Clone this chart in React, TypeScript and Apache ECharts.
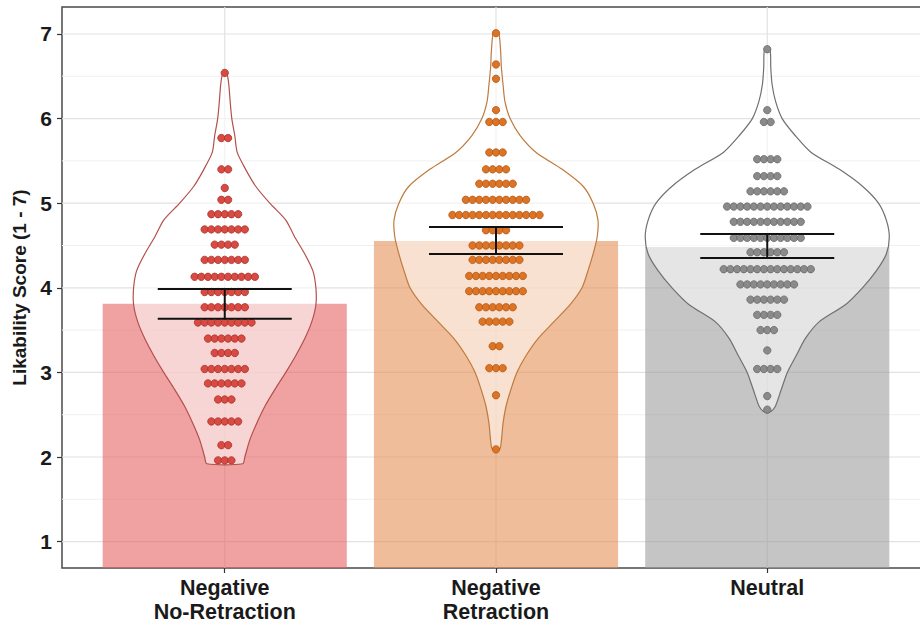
import React, { useEffect, useRef } from "react";
import * as echarts from "echarts";

// ---- data ----
const categories = ["Negative\nNo-Retraction", "Negative\nRetraction", "Neutral"];
const categoryPositions = [1, 2, 3];
const barMeans = [3.81, 4.554, 4.483];
const errLower = [3.633, 4.4, 4.353];
const errUpper = [3.987, 4.719, 4.636];
const yTicks = [1, 2, 3, 4, 5, 6, 7];
const gridMajor = [1, 2, 3, 4, 5, 6, 7];
const gridMinor = [1.5, 2.5, 3.5, 4.5, 5.5, 6.5];

// violin outlines: [score, half width in x-axis units]
const violinNoRetraction = [
  [6.57, 0], [6.52, 0.009], [6.4, 0.015], [6.2, 0.02], [6.0, 0.026], [5.8, 0.037], [5.6, 0.046],
  [5.4, 0.077], [5.2, 0.114], [5.0, 0.166], [4.8, 0.225], [4.6, 0.258], [4.4, 0.295], [4.2, 0.325],
  [4.0, 0.336], [3.8, 0.336], [3.6, 0.321], [3.4, 0.295], [3.2, 0.262], [3.0, 0.225], [2.8, 0.185],
  [2.6, 0.148], [2.4, 0.118], [2.2, 0.092], [2.0, 0.074], [1.92, 0.066],
];
const violinRetraction = [
  [7.04, 0], [7.0, 0.011], [6.8, 0.017], [6.6, 0.02], [6.4, 0.026], [6.2, 0.033], [6.0, 0.052],
  [5.8, 0.089], [5.6, 0.148], [5.4, 0.244], [5.2, 0.321], [5.0, 0.358], [4.8, 0.376], [4.6, 0.373],
  [4.4, 0.358], [4.2, 0.339], [4.0, 0.317], [3.8, 0.273], [3.6, 0.214], [3.4, 0.155], [3.2, 0.111],
  [3.0, 0.077], [2.8, 0.055], [2.6, 0.037], [2.4, 0.026], [2.2, 0.02], [2.1, 0.015], [2.07, 0],
];
const violinNeutral = [
  [6.84, 0], [6.8, 0.011], [6.6, 0.013], [6.4, 0.018], [6.2, 0.031], [6.0, 0.055], [5.8, 0.103],
  [5.6, 0.162], [5.4, 0.266], [5.2, 0.351], [5.0, 0.41], [4.8, 0.439], [4.6, 0.45], [4.4, 0.439],
  [4.2, 0.402], [4.0, 0.351], [3.8, 0.288], [3.6, 0.192], [3.4, 0.14], [3.2, 0.107], [3.0, 0.074],
  [2.8, 0.052], [2.6, 0.03], [2.54, 0.015], [2.52, 0],
];

// dot plot rows: score value and number of stacked dots
const dotsNoRetractionValues = [6.54, 5.77, 5.4, 5.18, 5.04, 4.87, 4.69, 4.51, 4.33, 4.13, 3.95, 3.77, 3.59, 3.4, 3.23, 3.04, 2.87, 2.68, 2.42, 2.14, 1.96];
const dotsNoRetractionCounts = [1, 2, 2, 1, 2, 5, 7, 4, 7, 10, 7, 7, 9, 6, 4, 7, 6, 3, 5, 2, 3];
const dotsRetractionValues = [7.01, 6.64, 6.47, 6.1, 5.96, 5.6, 5.4, 5.23, 5.04, 4.86, 4.68, 4.5, 4.33, 4.14, 3.96, 3.77, 3.6, 3.31, 3.05, 2.73, 2.09];
const dotsRetractionCounts = [1, 1, 1, 1, 3, 3, 4, 6, 10, 14, 4, 8, 8, 9, 9, 6, 5, 2, 3, 1, 1];
const dotsNeutralValues = [6.82, 6.1, 5.96, 5.52, 5.32, 5.14, 4.96, 4.78, 4.59, 4.42, 4.22, 4.04, 3.86, 3.68, 3.5, 3.26, 3.04, 2.72, 2.56];
const dotsNeutralCounts = [1, 1, 2, 4, 4, 6, 13, 11, 11, 6, 14, 9, 6, 4, 3, 1, 4, 1, 1];

// ---- styling ----
const X_MIN = 0.4;
const X_MAX = 3.6;
const Y_MIN = 0.688;
const Y_MAX = 7.319;
const BAR_HALF = 0.45;
const CAP_HALF = 0.247;
const DOT_STEP = 0.0247;
const barColors = ["rgba(230,100,100,0.6)", "rgba(228,145,85,0.6)", "rgba(158,158,158,0.6)"];
const violinStrokes = ["#b4504c", "#c07a3c", "#707070"];
const dotFills = ["#d84a42", "#dd7324", "#8a8a8a"];
const dotBorders = ["#a8322c", "#b25a18", "#6a6a6a"];
const FONT = "'Liberation Sans', Arial, sans-serif";

const violins = [violinNoRetraction, violinRetraction, violinNeutral];
const dotGroups = [
  [dotsNoRetractionValues, dotsNoRetractionCounts],
  [dotsRetractionValues, dotsRetractionCounts],
  [dotsNeutralValues, dotsNeutralCounts],
];

export default function App() {
  const ref = useRef<HTMLDivElement>(null);
  useEffect(() => {
    document.body.style.margin = "0";
    document.body.style.overflow = "hidden";
    const chart = echarts.init(ref.current!, null, { renderer: "svg" });

    const dotSeries = dotGroups.map(([vals, counts], gi) => {
      const data: number[][] = [];
      vals.forEach((v, ri) => {
        const n = counts[ri];
        for (let k = 0; k < n; k++) {
          data.push([categoryPositions[gi] + (k - (n - 1) / 2) * DOT_STEP, v]);
        }
      });
      return {
        type: "scatter",
        z: 4,
        data,
        symbolSize: 7.4,
        itemStyle: { color: dotFills[gi], borderColor: dotBorders[gi], borderWidth: 0.8, opacity: 1 },
        silent: true,
      };
    });

    const option: any = {
      animation: false,
      grid: {
        left: 62,
        top: 7,
        width: 868,
        height: 561,
        show: true,
        borderColor: "#4a4a4a",
        borderWidth: 1.5,
        backgroundColor: "#fff",
      },
      xAxis: {
        type: "value",
        min: X_MIN,
        max: X_MAX,
        axisLine: { show: false },
        splitLine: { show: false },
        axisTick: {
          show: true,
          customValues: categoryPositions,
          length: 5,
          lineStyle: { color: "#333", width: 1.2 },
        },
        axisLabel: {
          customValues: categoryPositions,
          formatter: (v: number) => categories[Math.round(v) - 1] ?? "",
          fontFamily: FONT,
          fontSize: 21.5,
          fontWeight: "bold",
          color: "#1a1a1a",
          lineHeight: 24,
          margin: 8,
        },
      },
      yAxis: {
        type: "value",
        min: Y_MIN,
        max: Y_MAX,
        name: "Likability Score (1 - 7)",
        nameLocation: "middle",
        nameGap: 30,
        nameTextStyle: { fontFamily: FONT, fontSize: 19, fontWeight: "bold", color: "#1a1a1a" },
        axisLine: { show: false },
        splitLine: { show: false },
        axisTick: {
          show: true,
          customValues: yTicks,
          length: 5,
          lineStyle: { color: "#333", width: 1.2 },
        },
        axisLabel: {
          customValues: yTicks,
          fontFamily: FONT,
          fontSize: 21,
          fontWeight: "bold",
          color: "#1a1a1a",
          margin: 10,
        },
      },
      series: [
        {
          type: "custom",
          z: 1,
          silent: true,
          data: [[1, 1]],
          renderItem: (params: any, api: any) => {
            const cs = params.coordSys;
            const children: any[] = [];
            gridMinor.forEach((v) => {
              const p = api.coord([X_MIN, v]);
              children.push({ type: "line", shape: { x1: cs.x, y1: p[1], x2: cs.x + cs.width, y2: p[1] }, style: { stroke: "#f0f0f0", lineWidth: 1 } });
            });
            gridMajor.forEach((v) => {
              const p = api.coord([X_MIN, v]);
              children.push({ type: "line", shape: { x1: cs.x, y1: p[1], x2: cs.x + cs.width, y2: p[1] }, style: { stroke: "#e2e2e2", lineWidth: 1.2 } });
            });
            categoryPositions.forEach((c) => {
              const p = api.coord([c, Y_MIN]);
              children.push({ type: "line", shape: { x1: p[0], y1: cs.y, x2: p[0], y2: cs.y + cs.height }, style: { stroke: "#e2e2e2", lineWidth: 1.2 } });
            });
            return { type: "group", children };
          },
        },
        {
          type: "custom",
          z: 2,
          silent: true,
          clip: true,
          data: categoryPositions.map((c, i) => [c, barMeans[i]]),
          renderItem: (params: any, api: any) => {
            const x = api.value(0);
            const y = api.value(1);
            const tl = api.coord([x - BAR_HALF, y]);
            const br = api.coord([x + BAR_HALF, Y_MIN]);
            return {
              type: "rect",
              shape: { x: tl[0], y: tl[1], width: br[0] - tl[0], height: br[1] - tl[1] },
              style: { fill: barColors[params.dataIndex] },
            };
          },
        },
        {
          type: "custom",
          z: 3,
          silent: true,
          data: categoryPositions.map((c) => [c, 4]),
          renderItem: (params: any, api: any) => {
            const cx = api.value(0);
            const prof = violins[params.dataIndex];
            const right = prof.map(([y, w]) => api.coord([cx + w, y]));
            const left = prof.slice().reverse().map(([y, w]) => api.coord([cx - w, y]));
            return {
              type: "polygon",
              shape: { points: right.concat(left), smooth: 0.25 },
              style: { fill: "rgba(255,255,255,0.55)", stroke: violinStrokes[params.dataIndex], lineWidth: 1.2 },
            };
          },
        },
        ...dotSeries,
        {
          type: "custom",
          z: 5,
          silent: true,
          data: categoryPositions.map((c, i) => [c, errLower[i], errUpper[i]]),
          renderItem: (params: any, api: any) => {
            const x = api.value(0);
            const lo = api.value(1);
            const hi = api.value(2);
            const pLo = api.coord([x, lo]);
            const pHi = api.coord([x, hi]);
            const l1 = api.coord([x - CAP_HALF, lo]);
            const r1 = api.coord([x + CAP_HALF, lo]);
            const l2 = api.coord([x - CAP_HALF, hi]);
            const r2 = api.coord([x + CAP_HALF, hi]);
            const st = { stroke: "#111", lineWidth: 2 };
            return {
              type: "group",
              children: [
                { type: "line", shape: { x1: pLo[0], y1: pLo[1], x2: pHi[0], y2: pHi[1] }, style: st },
                { type: "line", shape: { x1: l1[0], y1: l1[1], x2: r1[0], y2: r1[1] }, style: st },
                { type: "line", shape: { x1: l2[0], y1: l2[1], x2: r2[0], y2: r2[1] }, style: st },
              ],
            };
          },
        },
      ],
    };
    chart.setOption(option);
    return () => chart.dispose();
  }, []);
  return <div ref={ref} style={{ width: 940, height: 629 }} />;
}
